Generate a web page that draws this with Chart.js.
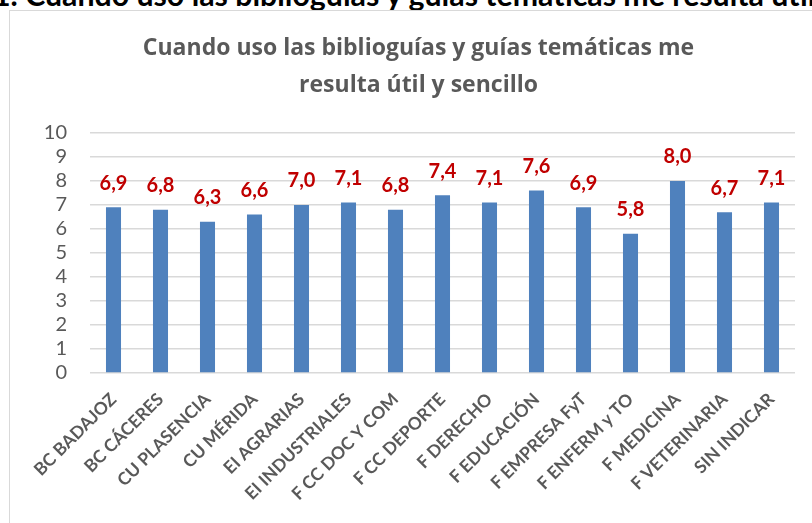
<!DOCTYPE html>
<html>
<head>
<meta charset="utf-8">
<script src="https://cdn.jsdelivr.net/npm/chart.js@4"></script>
<style>
  html, body { margin: 0; padding: 0; width: 812px; height: 523px; overflow: hidden; background: #fff; }
  #cabecera { position: absolute; left: -7px; top: -21px; white-space: nowrap; font: bold 30.3px Lato, sans-serif; color: #000; line-height: 30px; }
  #marco { position: absolute; left: 9px; top: 10px; width: 900px; height: 600px; border: 1px solid #d9d9d9; background: #fff; }
  #wrap { position: absolute; left: 0; top: 0; width: 812px; height: 523px; }
</style>
</head>
<body>
<div id="cabecera">1. Cuando uso las biblioguías y guías temáticas me resulta útil y sencillo</div>
<div id="marco"></div>
<div id="wrap"><canvas id="grafico"></canvas></div>
<script>
// categorías (centros / facultades)
const categorias = ['BC BADAJOZ', 'BC CÁCERES', 'CU PLASENCIA', 'CU MÉRIDA', 'EI AGRARIAS',
  'EI INDUSTRIALES', 'F CC DOC Y COM', 'F CC DEPORTE', 'F DERECHO', 'F EDUCACIÓN',
  'F EMPRESA FyT', 'F ENFERM y TO', 'F MEDICINA', 'F VETERINARIA', 'SIN INDICAR'];
// valoración media (0-10)
const valores = [6.9, 6.8, 6.3, 6.6, 7.0, 7.1, 6.8, 7.4, 7.1, 7.6, 6.9, 5.8, 8.0, 6.7, 7.1];
const titulo = ['Cuando uso las biblioguías y guías temáticas me', 'resulta útil y sencillo'];

// etiquetas rojas encima de cada barra
const etiquetas = {
  id: 'etiquetas',
  afterDatasetsDraw(chart) {
    const ctx = chart.ctx;
    const meta = chart.getDatasetMeta(0);
    ctx.save();
    ctx.font = 'bold 20px Lato, sans-serif';
    ctx.fillStyle = '#C00000';
    ctx.textAlign = 'center';
    ctx.textBaseline = 'middle';
    meta.data.forEach(function(bar, i) {
      ctx.fillText(valores[i].toFixed(1).replace('.', ','), bar.x, bar.y - 24);
    });
    ctx.restore();
  }
};

new Chart(document.getElementById('grafico'), {
  type: 'bar',
  data: {
    labels: categorias,
    datasets: [{
      data: valores,
      backgroundColor: '#4F81BD',
      barPercentage: 0.32,
      categoryPercentage: 1
    }]
  },
  options: {
    responsive: true,
    maintainAspectRatio: false,
    animation: false,
    layout: { padding: { left: 42, right: 17, top: 14, bottom: 0 } },
    plugins: {
      legend: { display: false },
      tooltip: { enabled: false },
      title: {
        display: true,
        text: titulo,
        color: '#595959',
        font: { family: 'Open Sans', size: 23, weight: 'bold', lineHeight: 1.65 },
        padding: { top: 15, bottom: 28 }
      }
    },
    scales: {
      x: {
        grid: { display: false },
        border: { display: false },
        afterFit: function(s) { s.height = 150; },
        ticks: {
          autoSkip: false,
          maxRotation: 45,
          minRotation: 45,
          padding: 8,
          color: '#595959',
          font: { family: 'Lato', size: 17.5, weight: 'bold' }
        }
      },
      y: {
        min: 0,
        max: 10,
        afterFit: function(s) { s.width = 48; },
        border: { display: false },
        grid: { color: '#d9d9d9', lineWidth: 1.5, drawTicks: false },
        ticks: {
          stepSize: 1,
          autoSkip: false,
          padding: 23,
          color: '#595959',
          font: { family: 'Lato', size: 20 }
        }
      }
    }
  },
  plugins: [etiquetas]
});
</script>
</body>
</html>
